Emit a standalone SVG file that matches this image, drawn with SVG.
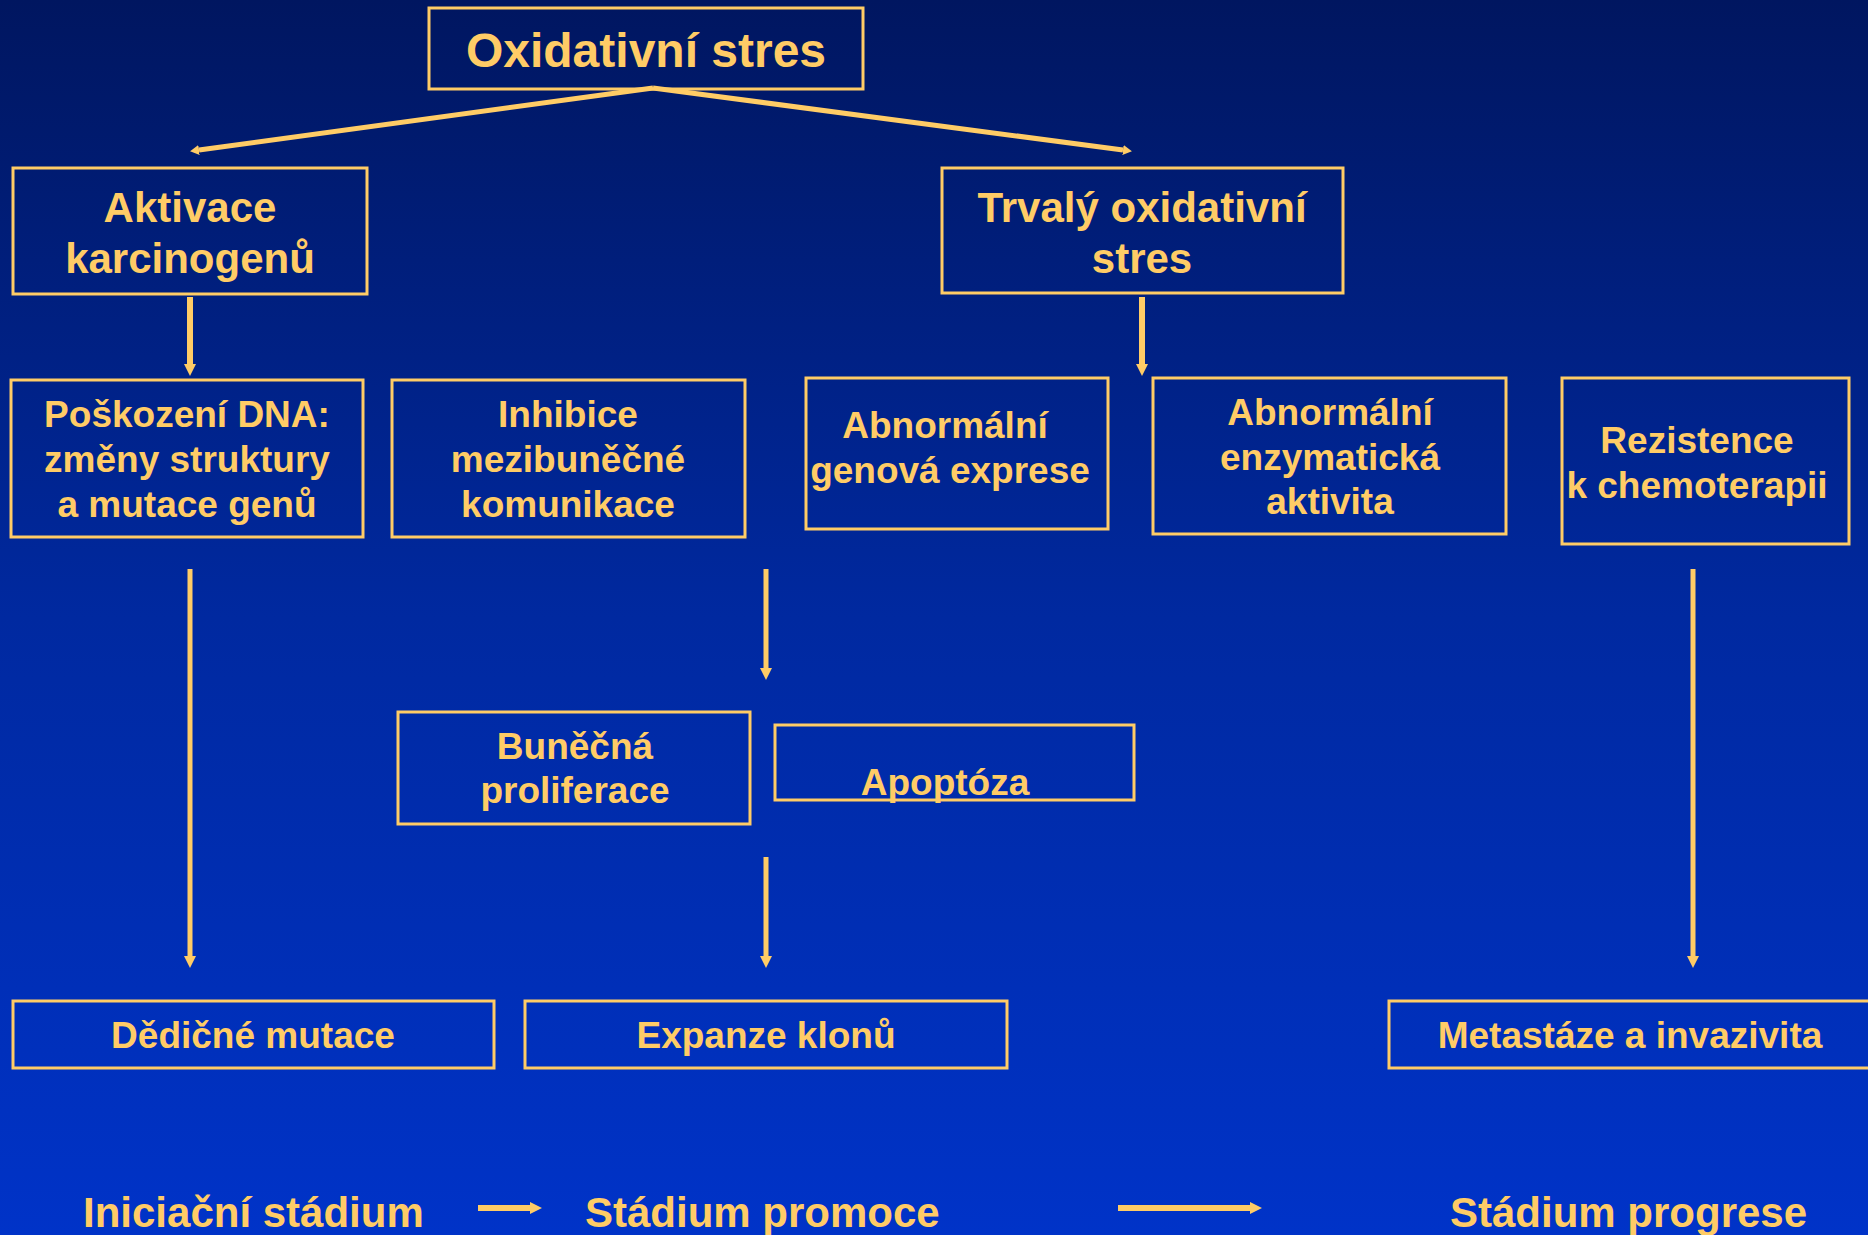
<svg xmlns="http://www.w3.org/2000/svg" width="1868" height="1235" viewBox="0 0 1868 1235">
<defs>
<linearGradient id="bg" x1="0" y1="0" x2="0" y2="1">
<stop offset="0" stop-color="#001660"/>
<stop offset="0.5" stop-color="#0029a0"/>
<stop offset="1" stop-color="#0033c8"/>
</linearGradient>
<marker id="ah" markerUnits="userSpaceOnUse" viewBox="0 -6 12 12" refX="0" refY="0" markerWidth="12" markerHeight="12" orient="auto">
<path d="M0,-6 L12,0 L0,6 z" fill="#ffcc66"/>
</marker>
<marker id="ahs" markerUnits="userSpaceOnUse" viewBox="0 -5 9 10" refX="0" refY="0" markerWidth="9" markerHeight="10" orient="auto">
<path d="M0,-5 L9,0 L0,5 z" fill="#ffcc66"/>
</marker>
</defs>
<style>
.box{fill:none;stroke:#ffcc66;stroke-width:3}
.t{font-family:"Liberation Sans",Arial,sans-serif;font-weight:bold;fill:#ffcc66;text-anchor:middle}
.t48{font-size:48px}
.t42{font-size:42px}
.t37{font-size:37px}
.c{stroke:#ffcc66;fill:none}
</style>
<rect x="0" y="0" width="1868" height="1235" fill="url(#bg)"/>

<g id="connectors">
<line class="c" x1="653" y1="88" x2="199" y2="150" stroke-width="5" marker-end="url(#ahs)"/>
<line class="c" x1="653" y1="88" x2="1123" y2="150" stroke-width="5" marker-end="url(#ahs)"/>
<line class="c" x1="190" y1="297" x2="190" y2="364" stroke-width="6" marker-end="url(#ah)"/>
<line class="c" x1="1142" y1="297" x2="1142" y2="364" stroke-width="6" marker-end="url(#ah)"/>
<line class="c" x1="190" y1="569" x2="190" y2="956" stroke-width="5" marker-end="url(#ah)"/>
<line class="c" x1="766" y1="569" x2="766" y2="668" stroke-width="5" marker-end="url(#ah)"/>
<line class="c" x1="766" y1="857" x2="766" y2="956" stroke-width="5" marker-end="url(#ah)"/>
<line class="c" x1="1693" y1="569" x2="1693" y2="956" stroke-width="5" marker-end="url(#ah)"/>
<line class="c" x1="478" y1="1208" x2="530" y2="1208" stroke-width="6" marker-end="url(#ah)"/>
<line class="c" x1="1118" y1="1208" x2="1250" y2="1208" stroke-width="6" marker-end="url(#ah)"/>
</g>

<g id="oxidativni-stres">
<rect class="box" x="429" y="8" width="434" height="81"/>
<text class="t t48" x="646" y="67">Oxidativní stres</text>
</g>

<g id="aktivace">
<rect class="box" x="13" y="168" width="354" height="126"/>
<text class="t t42" x="190" y="222">Aktivace</text>
<text class="t t42" x="190" y="273">karcinogenů</text>
</g>

<g id="trvaly">
<rect class="box" x="942" y="168" width="401" height="125"/>
<text class="t t42" x="1142" y="222">Trvalý oxidativní</text>
<text class="t t42" x="1142" y="273">stres</text>
</g>

<g id="poskozeni">
<rect class="box" x="11" y="380" width="352" height="157"/>
<text class="t t37" x="187" y="427">Poškození DNA:</text>
<text class="t t37" x="187" y="472">změny struktury</text>
<text class="t t37" x="187" y="517">a mutace genů</text>
</g>

<g id="inhibice">
<rect class="box" x="392" y="380" width="353" height="157"/>
<text class="t t37" x="568" y="427">Inhibice</text>
<text class="t t37" x="568" y="472">mezibuněčné</text>
<text class="t t37" x="568" y="517">komunikace</text>
</g>

<g id="genova-exprese">
<rect class="box" x="806" y="378" width="302" height="151"/>
<text class="t t37" x="945" y="438">Abnormální</text>
<text class="t t37" x="950" y="483">genová exprese</text>
</g>

<g id="enzymaticka">
<rect class="box" x="1153" y="378" width="353" height="156"/>
<text class="t t37" x="1330" y="425">Abnormální</text>
<text class="t t37" x="1330" y="470">enzymatická</text>
<text class="t t37" x="1330" y="514">aktivita</text>
</g>

<g id="rezistence">
<rect class="box" x="1562" y="378" width="287" height="166"/>
<text class="t t37" x="1697" y="453">Rezistence</text>
<text class="t t37" x="1697" y="498">k chemoterapii</text>
</g>

<g id="bunecna-proliferace">
<rect class="box" x="398" y="712" width="352" height="112"/>
<text class="t t37" x="575" y="759">Buněčná</text>
<text class="t t37" x="575" y="803">proliferace</text>
</g>

<g id="apoptoza">
<rect class="box" x="775" y="725" width="359" height="75"/>
<text class="t t37" x="945" y="795">Apoptóza</text>
</g>

<g id="dedicne-mutace">
<rect class="box" x="13" y="1001" width="481" height="67"/>
<text class="t t37" x="253" y="1048">Dědičné mutace</text>
</g>

<g id="expanze-klonu">
<rect class="box" x="525" y="1001" width="482" height="67"/>
<text class="t t37" x="766" y="1048">Expanze klonů</text>
</g>

<g id="metastaze">
<rect class="box" x="1389" y="1001" width="485" height="67"/>
<text class="t t37" x="1630" y="1048">Metastáze a invazivita</text>
</g>

<g id="stages">
<text class="t t42" x="83" y="1227" style="text-anchor:start">Iniciační stádium</text>
<text class="t t42" x="585" y="1227" style="text-anchor:start">Stádium promoce</text>
<text class="t t42" x="1450" y="1227" style="text-anchor:start">Stádium progrese</text>
</g>
</svg>
